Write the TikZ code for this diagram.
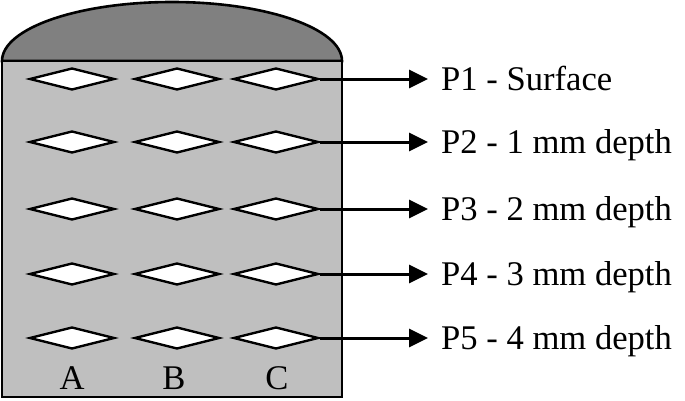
\documentclass[tikz,border=0pt]{standalone}
\usepackage{fontspec}
\setmainfont{Liberation Serif}
\usetikzlibrary{shapes.geometric,arrows.meta}
\begin{document}
\begin{tikzpicture}[x=1pt,y=1pt,
  gem/.style={diamond, aspect=3.9, draw=black, line width=2.4pt, fill=white, inner sep=0pt,
    minimum width=85pt, minimum height=22pt},
  lbl/.style={anchor=west, inner xsep=13pt, inner ysep=0pt, text height=23pt, text depth=0pt,
    font=\fontsize{34.6}{40}\selectfont},
  col/.style={anchor=center, inner sep=0pt, text height=23pt, text depth=0pt,
    font=\fontsize{34.6}{40}\selectfont},
  arr/.style={line width=3pt, -{Triangle[length=19pt,width=18pt]}}]
\useasboundingbox (0,0) rectangle (685,400);
% dome
\draw[line width=2.6pt, fill=black!50] (2,339) arc[start angle=180, end angle=0, x radius=170pt, y radius=59pt] -- cycle;
% body
\draw[line width=2.6pt, fill=black!25] (2,3) rectangle (342,339);
% rows
\foreach \r/\y/\t in {1/321/{P1 - Surface},2/258/{P2 - 1 mm depth},3/191/{P3 - 2 mm depth},4/126/{P4 - 3 mm depth},5/62/{P5 - 4 mm depth}}{
  \node[gem] (a\r) at (72,\y) {};
  \node[gem] (b\r) at (177,\y) {};
  \node[gem] (c\r) at (276,\y) {};
  \node[lbl] (p\r) at (428,\y) {\t};
  \draw[arr] (c\r.east) -- (p\r.west);
}
\node[col] (la) at (72,22) {A};
\node[col] (lb) at (174,22) {B};
\node[col] (lc) at (277,22) {C};
\end{tikzpicture}
\end{document}
